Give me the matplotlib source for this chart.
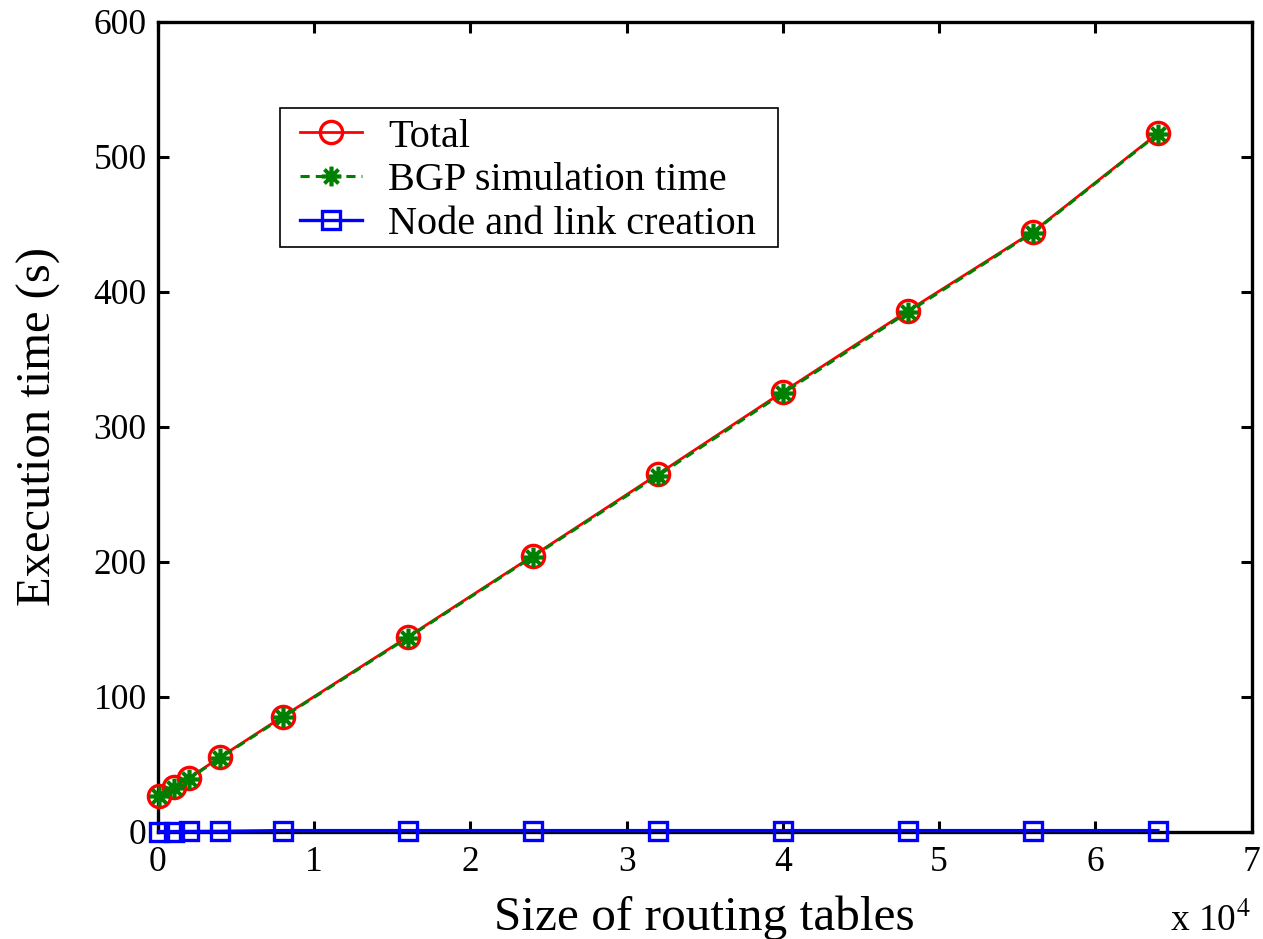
import numpy as np
import matplotlib.pyplot as plt
from matplotlib.patches import Rectangle

# routing table sizes and timings (seconds)
table_size = [100, 1000, 2000, 4000, 8000, 16000, 24000, 32000, 40000, 48000, 56000, 64000]
total_time = [27, 33, 40, 55.5, 85.5, 144.5, 204.5, 265, 326, 386, 444.5, 517.5]
bgp_time = [26.5, 32.5, 39.5, 55, 85, 144, 204, 264, 325, 385, 444, 517]
creation_time = [0.3, 0.3, 0.4, 0.5, 1.0, 1.0, 1.0, 1.0, 1.0, 1.0, 1.0, 1.0]

x_ticks = [0, 1, 2, 3, 4, 5, 6, 7]
y_ticks = [0, 100, 200, 300, 400, 500, 600]

plt.rcParams['font.family'] = ['Liberation Serif', 'DejaVu Serif']
plt.rcParams['mathtext.fontset'] = 'stix'

fig = plt.figure(figsize=(12.63, 9.39), dpi=100)
ax = fig.add_axes([0.125, 0.114, 0.866, 0.8626])

xs = np.array(table_size) / 1e4
ax.plot(xs, total_time, color='red', linestyle='-', linewidth=2,
        marker='o', markersize=16, markerfacecolor='none', markeredgewidth=2.4,
        label='Total', clip_on=False, zorder=3)
ax.plot(xs, bgp_time, color='#008000', linestyle='--', linewidth=2.2,
        dashes=(3, 2), marker=(8, 2, 0), markersize=14, markeredgewidth=2.6,
        label='BGP simulation time', clip_on=False, zorder=3)
ax.plot(xs, creation_time, color='blue', linestyle='-', linewidth=2.4,
        marker='s', markersize=13, markerfacecolor='none', markeredgewidth=2.4,
        label='Node and link creation', clip_on=False, zorder=3)

ax.set_xlim(0, 7)
ax.set_ylim(0, 600)
ax.set_xticks(x_ticks)
ax.set_yticks(y_ticks)
ax.tick_params(direction='in', top=True, right=True, length=8, width=2.2,
               labelsize=25.5)
ax.tick_params(axis='x', pad=10)
ax.tick_params(axis='y', pad=8)
for spine in ax.spines.values():
    spine.set_linewidth(2.4)

ax.set_xlabel('Size of routing tables', fontsize=35.5, labelpad=12)
ax.set_ylabel('Execution time (s)', fontsize=35)
ax.yaxis.set_label_coords(-0.089, 0.5)
fig.text(0.926, 0.0, r'x 10$^{4}$', fontsize=27, ha='left', va='bottom')

# legend entries without frame, box drawn separately (wider side margins)
leg = ax.legend(loc='upper left', bbox_to_anchor=(0.1298, 0.881), fontsize=29,
                frameon=False, handlelength=1.55, borderpad=0,
                labelspacing=0.16, handletextpad=0.65, borderaxespad=0)
ax.add_patch(Rectangle((0.1115, 0.7222), 0.4552, 0.1716, transform=ax.transAxes,
                       fill=True, facecolor='white', edgecolor='black',
                       linewidth=1.2, zorder=4))
leg.set_zorder(5)

fig.savefig('out.png', dpi=100, facecolor='white')
